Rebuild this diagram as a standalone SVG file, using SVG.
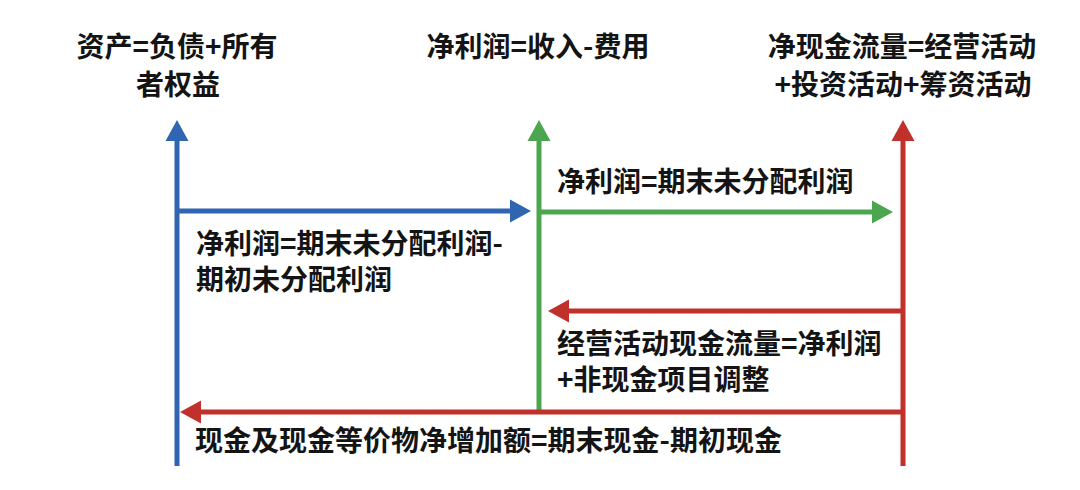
<svg xmlns="http://www.w3.org/2000/svg" width="1080" height="490" viewBox="0 0 1080 490">
  <style>
    text { font-family: "Noto Sans CJK SC", "Noto Sans", sans-serif; font-weight: 700; font-size: 28px; fill: #141414; }
    .c { text-anchor: middle; }
    .blue { stroke: #2f65b1; stroke-width: 5; fill: none; }
    .green { stroke: #4ca64f; stroke-width: 5; fill: none; }
    .red { stroke: #c1312b; stroke-width: 5; fill: none; }
  </style>
  <defs>
    <marker id="ab" markerUnits="userSpaceOnUse" markerWidth="22" markerHeight="24" refX="0" refY="12" orient="auto" viewBox="0 0 22 24">
      <path d="M0,0.5 L21,12 L0,23.5 z" fill="#2f65b1"/>
    </marker>
    <marker id="ag" markerUnits="userSpaceOnUse" markerWidth="22" markerHeight="24" refX="0" refY="12" orient="auto" viewBox="0 0 22 24">
      <path d="M0,0.5 L21,12 L0,23.5 z" fill="#4ca64f"/>
    </marker>
    <marker id="ar" markerUnits="userSpaceOnUse" markerWidth="22" markerHeight="24" refX="0" refY="12" orient="auto" viewBox="0 0 22 24">
      <path d="M0,0.5 L21,12 L0,23.5 z" fill="#c1312b"/>
    </marker>
  </defs>
  <rect width="1080" height="490" fill="#ffffff"/>

  <g id="connectors">
    <line class="blue" x1="177" y1="466" x2="177" y2="141" marker-end="url(#ab)"/>
    <line class="blue" x1="177" y1="211" x2="510" y2="211" marker-end="url(#ab)"/>
    <line class="green" x1="539" y1="410" x2="539" y2="141" marker-end="url(#ag)"/>
    <line class="green" x1="539" y1="212" x2="872" y2="212" marker-end="url(#ag)"/>
    <line class="red" x1="903" y1="466" x2="903" y2="141" marker-end="url(#ar)"/>
    <line class="red" x1="903" y1="311" x2="569" y2="311" marker-end="url(#ar)"/>
    <line class="red" x1="903" y1="412" x2="201" y2="412" marker-end="url(#ar)"/>
  </g>

  <g id="node-balance">
    <text class="c" x="177" y="57">资产=负债+所有</text>
    <text class="c" x="178" y="95">者权益</text>
  </g>
  <g id="node-income">
    <text class="c" x="538" y="57">净利润=收入-费用</text>
  </g>
  <g id="node-cashflow">
    <text class="c" x="902" y="57">净现金流量=经营活动</text>
    <text class="c" x="903" y="95">+投资活动+筹资活动</text>
  </g>
  <g id="label-blue">
    <text x="196" y="254">净利润=期末未分配利润-</text>
    <text x="196" y="290">期初未分配利润</text>
  </g>
  <g id="label-green">
    <text x="557" y="192">净利润=期末未分配利润</text>
  </g>
  <g id="label-red1">
    <text x="557" y="354">经营活动现金流量=净利润</text>
    <text x="557" y="390">+非现金项目调整</text>
  </g>
  <g id="label-red2">
    <text x="195" y="451">现金及现金等价物净增加额=期末现金-期初现金</text>
  </g>
</svg>
